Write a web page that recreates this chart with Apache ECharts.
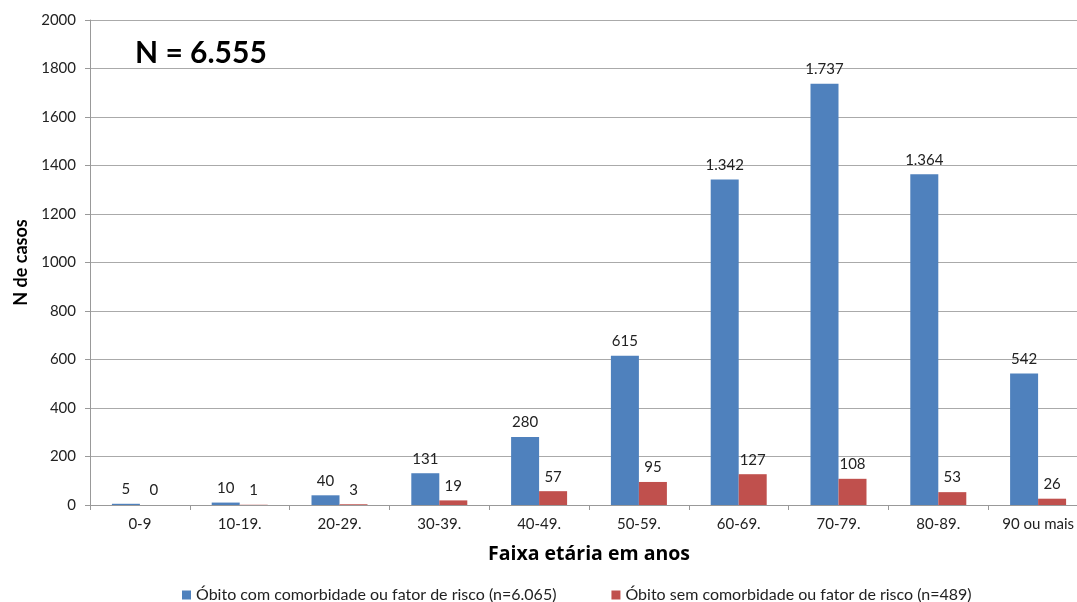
<!DOCTYPE html>
<html><head><meta charset="utf-8">
<script src="https://cdn.jsdelivr.net/npm/echarts@6/dist/echarts.min.js"></script>
<style>html,body{margin:0;padding:0;background:#fff;overflow:hidden;width:1077px;height:602px}#c{width:1100px;height:602px}</style>
</head><body><div id="c"></div>
<script>
const categories = ['0-9','10-19.','20-29.','30-39.','40-49.','50-59.','60-69.','70-79.','80-89.','90 ou mais'];
const comComorb = [5,10,40,131,280,615,1342,1737,1364,542];
const semComorb = [0,1,3,19,57,95,127,108,53,26];
const seriesNames = ['Óbito com comorbidade ou fator de risco (n=6.065)','Óbito sem comorbidade ou fator de risco (n=489)'];
const yTicks = [0,200,400,600,800,1000,1200,1400,1600,1800,2000];

const fmt = v => String(v).replace(/\B(?=(\d{3})+(?!\d))/g, '.');
const font = 'Lato, "Open Sans", sans-serif';
const chart = echarts.init(document.getElementById('c'), null, {renderer:'canvas'});
chart.setOption({
  animation:false,
  textStyle:{fontFamily:font},
  title:{text:'N = 6.555', left:135, top:38, padding:0, textStyle:{fontFamily:font, fontSize:30, fontWeight:'bold', color:'#000'}},
  grid:{left:90, width:998, top:20, height:485},
  legend:{top:587, left:182, padding:0, itemWidth:9, itemHeight:9, itemGap:55, icon:'rect',
    textStyle:{fontFamily:font, fontSize:16, lineHeight:16, color:'#222'}, data:seriesNames},
  xAxis:{type:'category', data:categories,
    name:'Faixa etária em anos', nameLocation:'middle', nameGap:39,
    nameTextStyle:{fontFamily:'"Open Sans", sans-serif', fontSize:19.5, fontWeight:'bold', color:'#000'},
    axisLine:{lineStyle:{color:'#999'}}, axisTick:{show:true, length:5, lineStyle:{color:'#999'}},
    axisLabel:{fontFamily:font, fontSize:15, color:'#222', margin:12}},
  yAxis:{type:'value', min:yTicks[0], max:yTicks[yTicks.length-1], interval:200,
    name:'N de casos', nameLocation:'middle', nameGap:60, nameRotate:90,
    nameTextStyle:{fontFamily:'"Liberation Sans Narrow", Lato, sans-serif', fontSize:18, fontWeight:'bold', color:'#000'},
    axisLine:{show:true, lineStyle:{color:'#999'}}, axisTick:{show:true, length:5, lineStyle:{color:'#999'}},
    splitLine:{lineStyle:{color:'#aaa'}},
    axisLabel:{fontFamily:font, fontSize:15, color:'#222', margin:14, formatter:v=>String(v)}},
  series:[
    {name:seriesNames[0], type:'bar', data:comComorb, barWidth:28, barGap:'0%',
     itemStyle:{color:'#4F81BD'},
     label:{show:true, position:'top', distance:7, fontFamily:font, fontSize:15, color:'#222', formatter:p=>fmt(p.value)}},
    {name:seriesNames[1], type:'bar', data:semComorb, barWidth:28, barGap:'0%',
     itemStyle:{color:'#C0504D'},
     label:{show:true, position:'top', distance:7, fontFamily:font, fontSize:15, color:'#222', formatter:p=>fmt(p.value)}}
  ]
});
</script></body></html>
